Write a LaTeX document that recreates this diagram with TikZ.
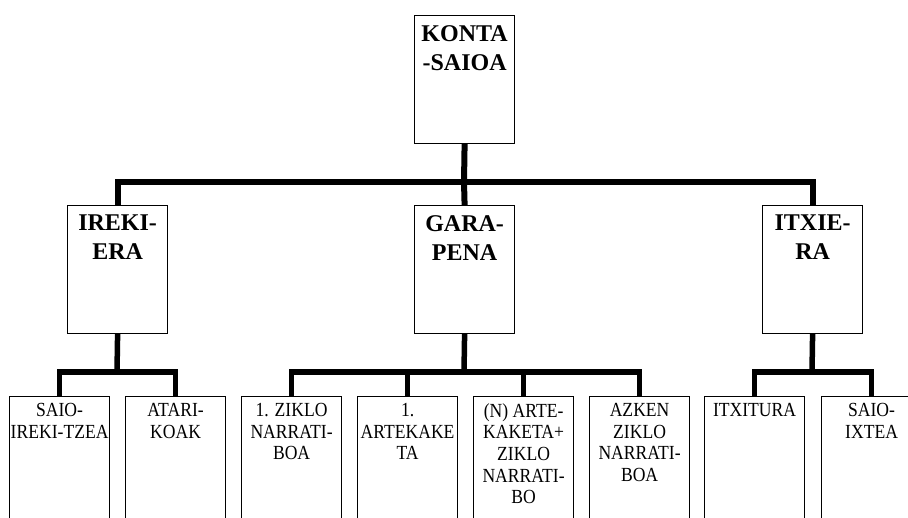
\documentclass[tikz,border=0pt]{standalone}
\usepackage{fontspec}
\setmainfont{Liberation Serif}
\newfontfamily\leaffont[FakeStretch=0.88]{Liberation Serif}
\begin{document}
\begin{tikzpicture}[x=1pt,y=-1pt,
  box/.style={draw, line width=1.2pt, minimum width=100pt, inner sep=0pt, anchor=north west},
  topbox/.style={box, minimum height=128pt},
  leafbox/.style={box, minimum height=160pt},
  conn/.style={line width=6pt, line join=miter},
  lconn/.style={line width=5.5pt, line join=miter},
  boldtext/.style={anchor=north, inner sep=0pt, align=center, yshift=-10pt,
    font=\bfseries\fontsize{24}{29}\selectfont},
  leaftext/.style={anchor=north, inner sep=0pt, align=center, yshift=-7pt,
    font=\leaffont\fontsize{20}{21.7}\selectfont}]
\useasboundingbox (0,0) rectangle (908,518);
\fill[white] (0,0) rectangle (908,518);
\clip (0,0) rectangle (908,518);

% boxes
\node[topbox] (konta) at (414,15) {};
\node[topbox] (ireki) at (67,205) {};
\node[topbox] (gara) at (414,205) {};
\node[topbox] (itxi) at (762,205) {};
\node[leafbox] (b1) at (9,396) {};
\node[leafbox] (b2) at (125,396) {};
\node[leafbox] (b3) at (241,396) {};
\node[leafbox] (b4) at (357,396) {};
\node[leafbox] (b5) at (473,396) {};
\node[leafbox] (b6) at (589,396) {};
\node[leafbox] (b7) at (704,396) {};
\node[leafbox] (b8) at (821,396) {};

% junctions
\coordinate (j0) at (464,182);
\coordinate (j1) at (117,372);
\coordinate (j2) at (464,372);
\coordinate (j3) at (812,372);

% connectors
\draw[conn] (konta.south) -- (j0);
\draw[conn] (ireki.north) |- (j0) -| (itxi.north);
\draw[conn] (j0) -- (gara.north);

\draw[lconn] (ireki.south) -- (j1);
\draw[lconn] (b1.north) |- (j1) -| (b2.north);

\draw[lconn] (gara.south) -- (j2);
\draw[lconn] (b3.north) |- (j2) -| (b6.north);
\draw[lconn] (b4.north) -- (b4.north |- j2);
\draw[lconn] (b5.north) -- (b5.north |- j2);

\draw[lconn] (itxi.south) -- (j3);
\draw[lconn] (b7.north) |- (j3) -| (b8.north);

% texts
\node[boldtext] (konta-t) at (konta.north) {KONTA\\-SAIOA};
\node[boldtext] (ireki-t) at (ireki.north) {IREKI-\\ERA};
\node[boldtext] (gara-t) at (gara.north) {GARA-\\PENA};
\node[boldtext] (itxi-t) at (itxi.north) {ITXIE-\\RA};
\node[leaftext] (b1-t) at (b1.north) {SAIO-\\IREKI-TZEA};
\node[leaftext] (b2-t) at (b2.north) {ATARI-\\KOAK};
\node[leaftext] (b3-t) at (b3.north) {1. ZIKLO\\NARRATI-\\BOA};
\node[leaftext] (b4-t) at (b4.north) {1.\\ARTEKAKE\\TA};
\node[leaftext] (b5-t) at (b5.north) {(N) ARTE-\\KAKETA+\\ZIKLO\\NARRATI-\\BO};
\node[leaftext] (b6-t) at (b6.north) {AZKEN\\ZIKLO\\NARRATI-\\BOA};
\node[leaftext] (b7-t) at (b7.north) {ITXITURA};
\node[leaftext] (b8-t) at (b8.north) {SAIO-\\IXTEA};
\end{tikzpicture}
\end{document}
